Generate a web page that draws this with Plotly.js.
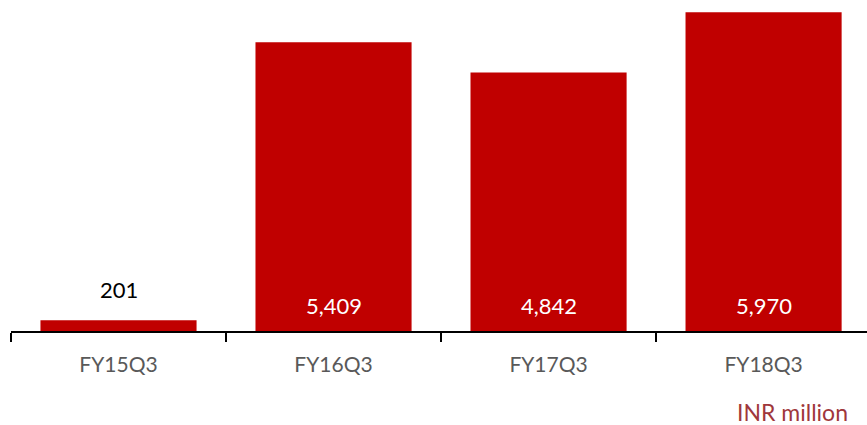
<!DOCTYPE html>
<html>
<head>
<meta charset="utf-8">
<script src="https://cdn.plot.ly/plotly-3.0.1.min.js"></script>
<style>html,body{margin:0;padding:0;background:#fff;}#chart{width:867px;height:425px;}</style>
</head>
<body>
<div id="chart"></div>
<script>
const categories = ["FY15Q3", "FY16Q3", "FY17Q3", "FY18Q3"];
const values = [201, 5409, 4842, 5970];
const labels = ["201", "5,409", "4,842", "5,970"];
const unitLabel = "INR million";

const FONT = "Lato, 'Open Sans', sans-serif";
const annotations = categories.map((c, i) => {
  const inside = values[i] > 1000;
  return {
    x: c, y: inside ? 0 : values[i], xref: 'x', yref: 'y',
    text: labels[i], showarrow: false,
    yanchor: 'bottom', yshift: inside ? 10 : 15,
    font: {family: FONT, size: 22, color: inside ? '#ffffff' : '#000000'}
  };
});
annotations.push({
  xref: 'paper', yref: 'paper', x: 1, y: 0, xanchor: 'right', yanchor: 'middle',
  xshift: -17, yshift: -81,
  text: unitLabel, showarrow: false,
  font: {family: FONT, size: 23, color: '#a0373b'}
});

Plotly.newPlot('chart', [{
  type: 'bar', x: categories, y: values,
  marker: {color: '#c00000'}, hoverinfo: 'none'
}], {
  width: 867, height: 425,
  margin: {l: 11, r: 0, t: 0, b: 94},
  paper_bgcolor: '#fff', plot_bgcolor: '#fff',
  bargap: 0.274,
  showlegend: false,
  xaxis: {
    range: [-0.5, 3.481], tickson: 'boundaries', ticks: 'outside', ticklen: 9,
    tickcolor: '#000', tickwidth: 1.3, ticklabelstandoff: 14,
    showline: true, linecolor: '#000', linewidth: 1.5,
    showgrid: false, zeroline: false,
    tickfont: {family: FONT, size: 21, color: '#595959'}
  },
  yaxis: {range: [0, 6200], visible: false, showgrid: false, zeroline: false},
  annotations: annotations
}, {staticPlot: true});
</script>
</body>
</html>
